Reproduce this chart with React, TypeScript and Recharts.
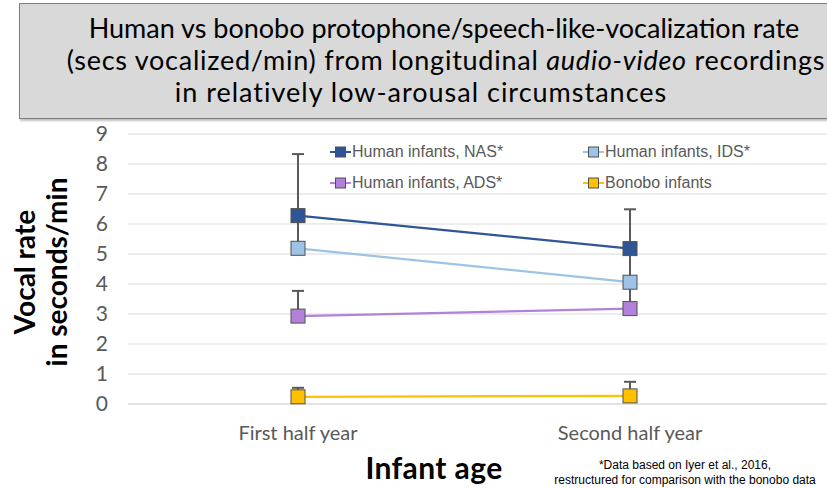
import {
  CartesianGrid,
  ErrorBar,
  Legend,
  Line,
  LineChart,
  XAxis,
  YAxis,
} from 'recharts';

const categories = ['First half year', 'Second half year'];
const nasValues = [6.28, 5.18];
const nasErrors = [2.05, 1.31];
const idsValues = [5.19, 4.06];
const idsErrors = [1.1, 1.12];
const adsValues = [2.93, 3.18];
const adsErrors = [0.84, 0.9];
const bonoboValues = [0.24, 0.27];
const bonoboErrors = [0.3, 0.47];
const yTicks = [0, 1, 2, 3, 4, 5, 6, 7, 8, 9];

const series = [
  { key: 'nas', name: 'Human infants, NAS*', color: '#2f5597' },
  { key: 'ids', name: 'Human infants, IDS*', color: '#9dc3e6' },
  { key: 'ads', name: 'Human infants, ADS*', color: '#b381d9' },
  { key: 'bonobo', name: 'Bonobo infants', color: '#ffc000' },
];

const data = categories.map((age, i) => ({
  age,
  nas: nasValues[i],
  nasErr: [0, nasErrors[i]],
  ids: idsValues[i],
  idsErr: [0, idsErrors[i]],
  ads: adsValues[i],
  adsErr: [0, adsErrors[i]],
  bonobo: bonoboValues[i],
  bonoboErr: [0, bonoboErrors[i]],
}));

const calibri = 'Lato, "Noto Sans", sans-serif';
const arial = '"Liberation Sans", Arial, sans-serif';

const squareDot = (color: string) => (props: any) => {
  const { cx, cy, index } = props;
  if (cx == null || cy == null) return <g key={index} />;
  return (
    <rect
      key={index}
      x={cx - 7}
      y={cy - 7}
      width={14}
      height={14}
      fill={color}
      stroke="#505050"
      strokeWidth={1}
    />
  );
};

const LegendContent = () => (
  <div
    style={{
      display: 'grid',
      gridTemplateColumns: '253px 240px',
      rowGap: 13,
      fontFamily: arial,
      fontSize: 16,
      color: '#595959',
    }}
  >
    {series.map((s) => (
      <div key={s.key} style={{ display: 'flex', alignItems: 'center', height: 18 }}>
        <svg width={21} height={12} style={{ marginRight: 1 }}>
          <line x1={0} y1={6} x2={21} y2={6} stroke={s.color} strokeWidth={2} />
          <rect x={5.5} y={1} width={10} height={10} fill={s.color} stroke="#505050" strokeWidth={1} />
        </svg>
        <span>{s.name}</span>
      </div>
    ))}
  </div>
);

const titleLine = (center: number, top: number, spacing: number) => ({
  position: 'absolute' as const,
  left: center - 19 - 450,
  width: 900,
  top,
  textAlign: 'center' as const,
  whiteSpace: 'nowrap' as const,
  letterSpacing: spacing,
});

export default function App() {
  return (
    <div
      style={{
        position: 'absolute',
        left: 0,
        top: 0,
        width: 827,
        height: 488,
        background: '#fff',
        overflow: 'hidden',
      }}
    >
      <div
        style={{
          position: 'absolute',
          left: 19,
          top: 3,
          width: 830,
          height: 114,
          background: '#d9d9d9',
          border: '1px solid #7f7f7f',
          boxShadow: '1px 2px 2px rgba(0,0,0,0.25)',
          fontFamily: calibri,
          fontSize: 27,
          color: '#000',
          lineHeight: '32px',
        }}
      >
        <div style={titleLine(443, 8, 0)}>
          Human vs bonobo protophone/speech-like-vocalization rate
        </div>
        <div style={titleLine(445, 40, 0.75)}>
          (secs vocalized/min) from longitudinal <i>audio-video</i> recordings
        </div>
        <div style={titleLine(420, 72, 1)}>
          in relatively low-arousal circumstances
        </div>
      </div>

      <div style={{ position: 'absolute', left: 0, top: 0 }}>
        <LineChart
          width={827}
          height={488}
          data={data}
          margin={{ top: 134, right: 0, left: 0, bottom: 54 }}
        >
          <CartesianGrid vertical={false} stroke="#d9d9d9" strokeWidth={1} />
          <XAxis
            dataKey="age"
            height={30}
            padding={{ left: 170, right: 197 }}
            axisLine={{ stroke: '#d9d9d9' }}
            tickLine={false}
            tickMargin={16}
            tick={{ fill: '#595959', fontSize: 20, fontFamily: calibri }}
          />
          <YAxis
            width={128}
            domain={[0, 9]}
            ticks={yTicks}
            interval={0}
            axisLine={false}
            tickLine={false}
            tickMargin={14}
            tick={{ fill: '#595959', fontSize: 21, fontFamily: calibri }}
          />
          <Legend
            verticalAlign="middle"
            content={<LegendContent />}
            wrapperStyle={{ position: 'absolute', left: 330, top: 143, width: 500 }}
          />
          {series.map((s) => (
            <Line
              key={s.key}
              type="linear"
              dataKey={s.key}
              name={s.name}
              stroke={s.color}
              strokeWidth={2.25}
              dot={squareDot(s.color)}
              activeDot={false}
              isAnimationActive={false}
            >
              <ErrorBar
                dataKey={`${s.key}Err`}
                direction="y"
                width={6}
                stroke="#595959"
                strokeWidth={2}
              />
            </Line>
          ))}
        </LineChart>
      </div>

      <div
        style={{
          position: 'absolute',
          left: 40,
          top: 272,
          transform: 'translate(-50%, -50%) rotate(-90deg)',
          fontFamily: calibri,
          fontWeight: 700,
          fontSize: 28,
          lineHeight: '32px',
          textAlign: 'center',
          whiteSpace: 'nowrap',
          color: '#000',
        }}
      >
        Vocal rate
        <br />
        in seconds/min
      </div>

      <div
        style={{
          position: 'absolute',
          left: 434,
          top: 449,
          transform: 'translateX(-50%)',
          fontFamily: calibri,
          fontWeight: 700,
          fontSize: 30,
          letterSpacing: 0.4,
          lineHeight: '36px',
          whiteSpace: 'nowrap',
          color: '#000',
        }}
      >
        Infant age
      </div>

      <div
        style={{
          position: 'absolute',
          left: 685,
          top: 458,
          transform: 'translateX(-50%)',
          fontFamily: arial,
          fontSize: 12,
          lineHeight: '15px',
          textAlign: 'center',
          whiteSpace: 'nowrap',
          color: '#000',
        }}
      >
        *Data based on Iyer et al., 2016,
        <br />
        restructured for comparison with the bonobo data
      </div>
    </div>
  );
}
